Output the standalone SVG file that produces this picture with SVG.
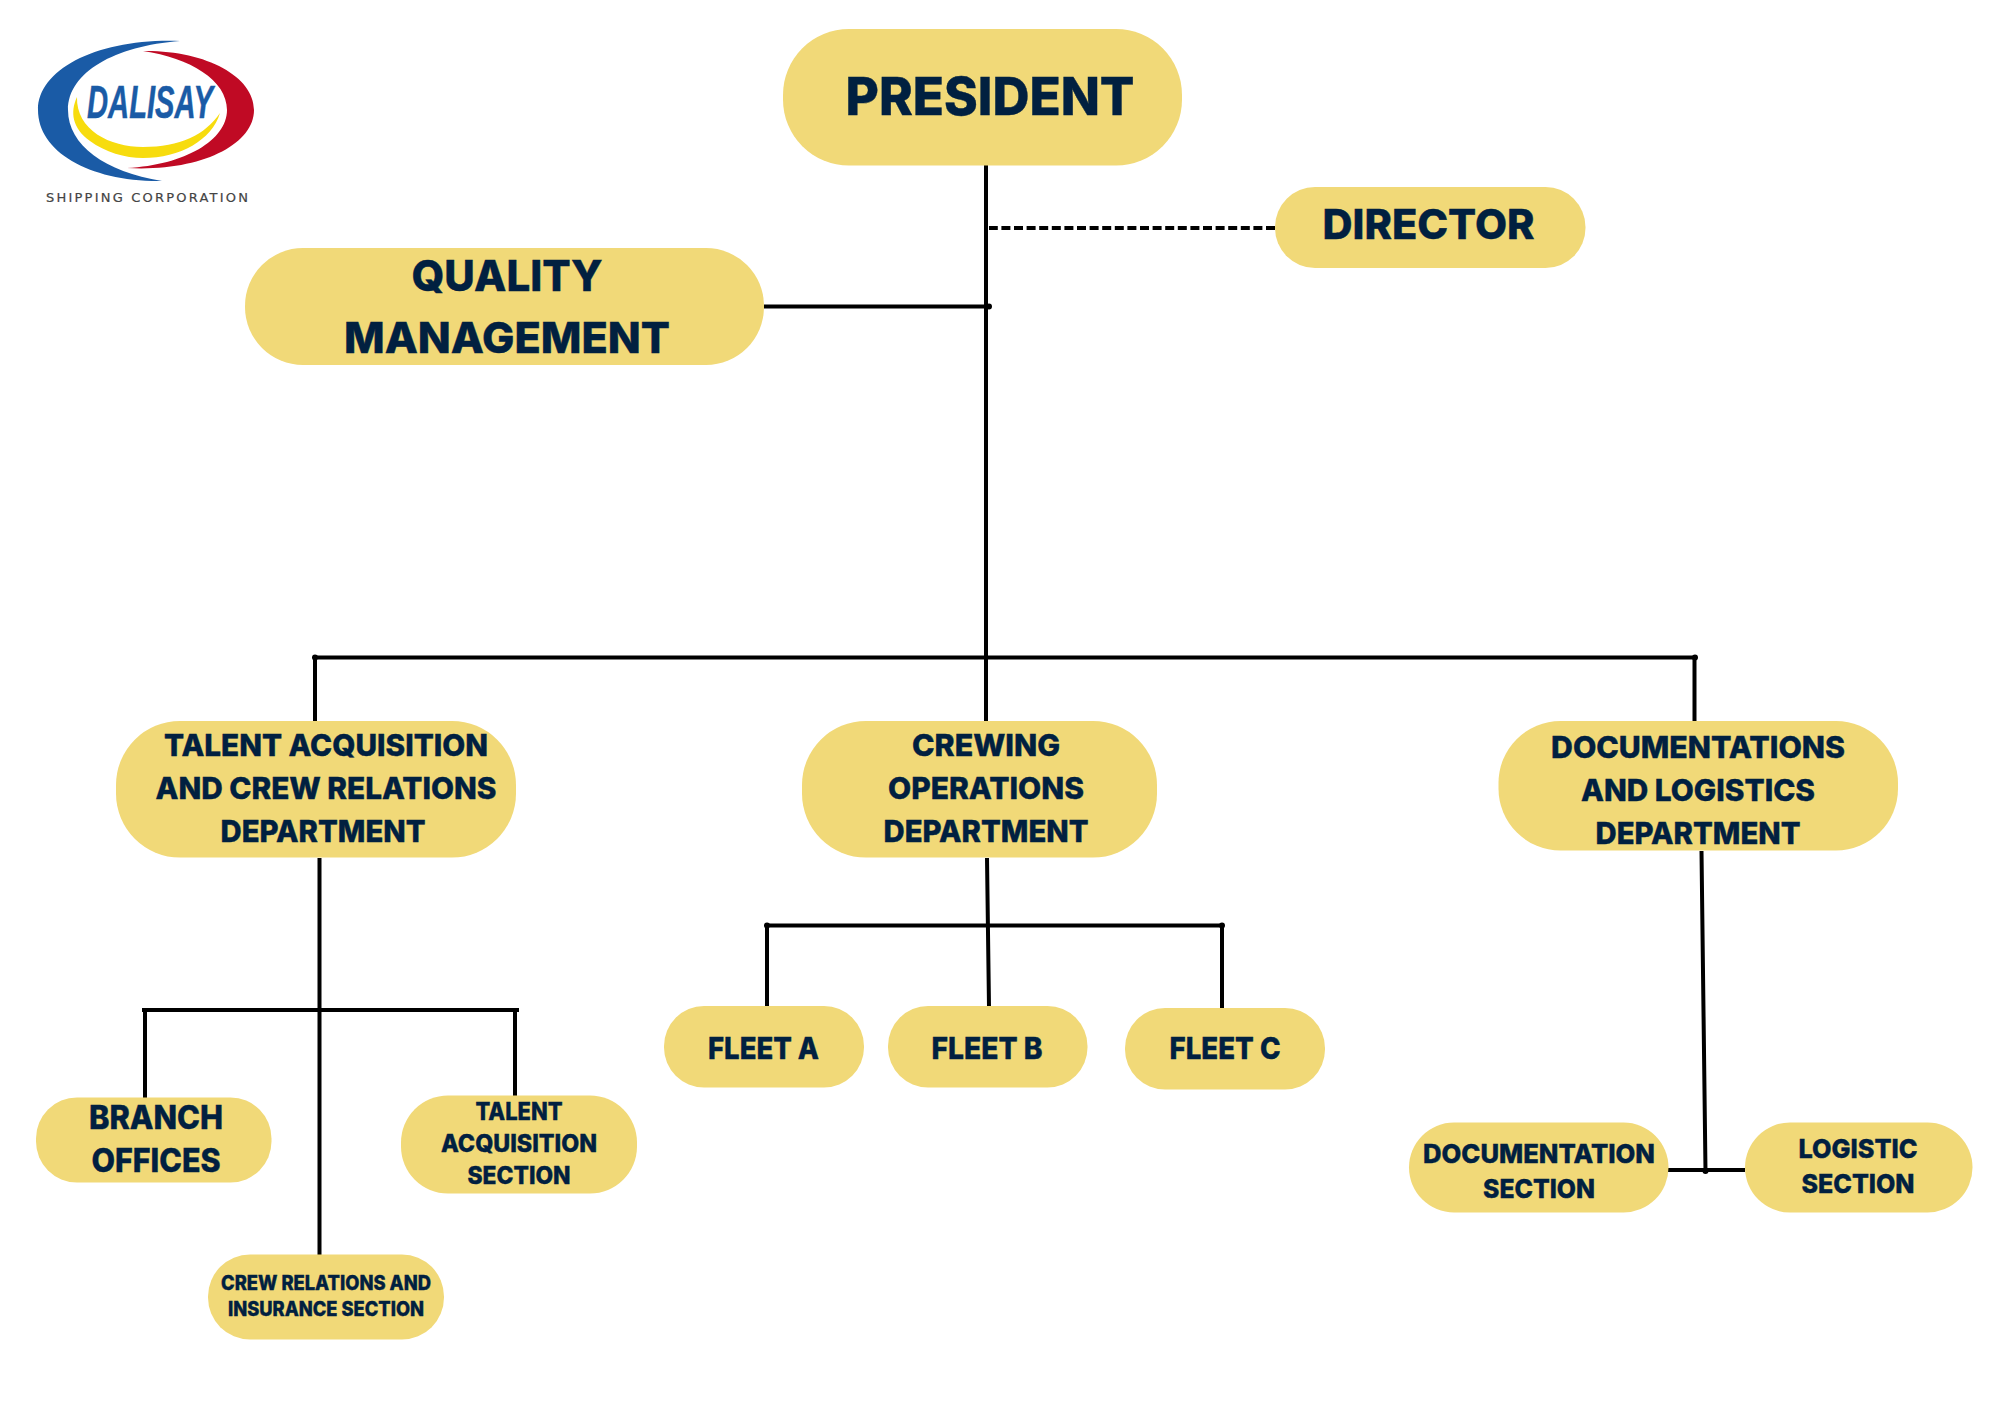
<svg xmlns="http://www.w3.org/2000/svg" width="2000" height="1414" viewBox="0 0 2000 1414">
<style>
.n{fill:#f1d978}
.t{font-family:"Inter","Liberation Sans",sans-serif;font-weight:800;fill:#012040;stroke:#012040;stroke-width:.4;text-anchor:middle}
.c{stroke:#000;stroke-width:4;fill:none}
.k{stroke:#000;stroke-width:6;stroke-linecap:round;fill:none}
</style>
<rect width="2000" height="1414" fill="#fff"/>
<g id="logo">
<path d="M180 41C100 38 38 68 38 110C38 152 90 182 162 181C105 172 68 145 68 110C68 72 115 46 180 41Z" fill="#1a5ba6"/>
<path d="M143 51C205 50 254 76 254 110C254 145 200 172 127 168C185 165 227 140 227 110C227 80 190 58 143 51Z" fill="#c00a24"/>
<path d="M77 97C70 112 72 128 90 141C105 152 125 158 143 158C180 158 212 140 220 113C205 135 180 147 143 147C110 147 76 130 77 97Z" fill="#f7dc0e"/>
<text x="150" y="118" font-family="Liberation Sans,sans-serif" font-style="italic" font-weight="700" font-size="46" fill="#1a5ba6" stroke="#1a5ba6" stroke-width=".5" textLength="126" lengthAdjust="spacingAndGlyphs" text-anchor="middle">DALISAY</text>
<text x="147" y="202" font-family="DejaVu Sans,sans-serif" font-size="13" fill="#444" stroke="#444" stroke-width=".2" textLength="202" text-anchor="middle">SHIPPING CORPORATION</text>
</g>
<g id="connectors">
<path class="c" d="M986 165V722M315 657.5H1695M315 657.5V722M1694.5 657.5V722"/>
<path class="c" d="M1275 228H989" stroke-dasharray="9 3.6"/>
<path class="c" d="M764 306.5H989"/>
<path class="c" d="M319.5 858V1255M142 1010H519M145 1010V1099M515 1010V1096"/>
<path class="c" d="M987 858L989 1007M766 925.5H1223M767 925.5V1009M1222 925.5V1009"/>
<path class="c" d="M1701.5 851L1705.5 1171M1668 1170H1745"/>
<path class="k" d="M315 657.5h0M1695 657.5h0M767 925.5h0M1222 925.5h0M989 306.5h0M1705.5 1171h0"/>
</g>
<g id="president"><rect class="n" x="783" y="29" width="399" height="136.500" rx="66"/><text class="t" x="990" y="115" font-size="52" textLength="289" lengthAdjust="spacingAndGlyphs">PRESIDENT</text></g>
<g id="director"><rect class="n" x="1275" y="187" width="310.500" height="81" rx="40"/><text class="t" x="1428.500" y="239" font-size="41.500" textLength="212" lengthAdjust="spacingAndGlyphs">DIRECTOR</text></g>
<g id="quality"><rect class="n" x="245" y="248" width="519" height="117" rx="58"/><text class="t" x="507" y="291" font-size="43" textLength="191" lengthAdjust="spacingAndGlyphs">QUALITY</text><text class="t" x="507" y="353" font-size="43" textLength="326" lengthAdjust="spacingAndGlyphs">MANAGEMENT</text></g>
<g id="talent-dept"><rect class="n" x="116" y="721" width="400" height="136.500" rx="64"/><text class="t" x="326" y="756" font-size="30" textLength="324" lengthAdjust="spacingAndGlyphs">TALENT ACQUISITION</text><text class="t" x="326" y="799" font-size="30" textLength="341" lengthAdjust="spacingAndGlyphs">AND CREW RELATIONS</text><text class="t" x="323" y="842" font-size="30" textLength="205" lengthAdjust="spacingAndGlyphs">DEPARTMENT</text></g>
<g id="crewing"><rect class="n" x="802" y="721" width="355" height="136.500" rx="64"/><text class="t" x="986" y="756" font-size="30" textLength="148" lengthAdjust="spacingAndGlyphs">CREWING</text><text class="t" x="986" y="799" font-size="30" textLength="196" lengthAdjust="spacingAndGlyphs">OPERATIONS</text><text class="t" x="986" y="842" font-size="30" textLength="205" lengthAdjust="spacingAndGlyphs">DEPARTMENT</text></g>
<g id="doc-dept"><rect class="n" x="1498.500" y="721" width="399.500" height="129.500" rx="62"/><text class="t" x="1698" y="758" font-size="30" textLength="294" lengthAdjust="spacingAndGlyphs">DOCUMENTATIONS</text><text class="t" x="1698" y="801" font-size="30" textLength="234" lengthAdjust="spacingAndGlyphs">AND LOGISTICS</text><text class="t" x="1698" y="844" font-size="30" textLength="205" lengthAdjust="spacingAndGlyphs">DEPARTMENT</text></g>
<g id="fleet-a"><rect class="n" x="664" y="1006" width="200" height="81.500" rx="40"/><text class="t" x="763.500" y="1059" font-size="30" textLength="111" lengthAdjust="spacingAndGlyphs">FLEET A</text></g>
<g id="fleet-b"><rect class="n" x="888" y="1006" width="199.500" height="81.500" rx="40"/><text class="t" x="987" y="1059" font-size="30" textLength="111" lengthAdjust="spacingAndGlyphs">FLEET B</text></g>
<g id="fleet-c"><rect class="n" x="1125" y="1008" width="200" height="81.500" rx="40"/><text class="t" x="1225" y="1059" font-size="30" textLength="111" lengthAdjust="spacingAndGlyphs">FLEET C</text></g>
<g id="branch"><rect class="n" x="36" y="1097.500" width="235.500" height="85" rx="41"/><text class="t" x="156" y="1128.500" font-size="32" textLength="134" lengthAdjust="spacingAndGlyphs">BRANCH</text><text class="t" x="156" y="1171.500" font-size="32" textLength="129" lengthAdjust="spacingAndGlyphs">OFFICES</text></g>
<g id="talent-sec"><rect class="n" x="401" y="1095.500" width="236" height="98" rx="47"/><text class="t" x="519" y="1120" font-size="24" textLength="87" lengthAdjust="spacingAndGlyphs">TALENT</text><text class="t" x="519" y="1152" font-size="24" textLength="156" lengthAdjust="spacingAndGlyphs">ACQUISITION</text><text class="t" x="519" y="1184" font-size="24" textLength="103" lengthAdjust="spacingAndGlyphs">SECTION</text></g>
<g id="crew-rel"><rect class="n" x="208" y="1254.500" width="236" height="85" rx="42"/><text class="t" x="326" y="1289.500" font-size="20" textLength="210" lengthAdjust="spacingAndGlyphs">CREW RELATIONS AND</text><text class="t" x="326" y="1315.500" font-size="20" textLength="196" lengthAdjust="spacingAndGlyphs">INSURANCE SECTION</text></g>
<g id="doc-sec"><rect class="n" x="1409" y="1122.500" width="259.500" height="90" rx="45"/><text class="t" x="1539" y="1163" font-size="26" textLength="232" lengthAdjust="spacingAndGlyphs">DOCUMENTATION</text><text class="t" x="1539" y="1198" font-size="26" textLength="112" lengthAdjust="spacingAndGlyphs">SECTION</text></g>
<g id="logistic"><rect class="n" x="1745" y="1122.500" width="227.500" height="90" rx="45"/><text class="t" x="1858" y="1158" font-size="26" textLength="119" lengthAdjust="spacingAndGlyphs">LOGISTIC</text><text class="t" x="1858" y="1193" font-size="26" textLength="113" lengthAdjust="spacingAndGlyphs">SECTION</text></g>
</svg>
